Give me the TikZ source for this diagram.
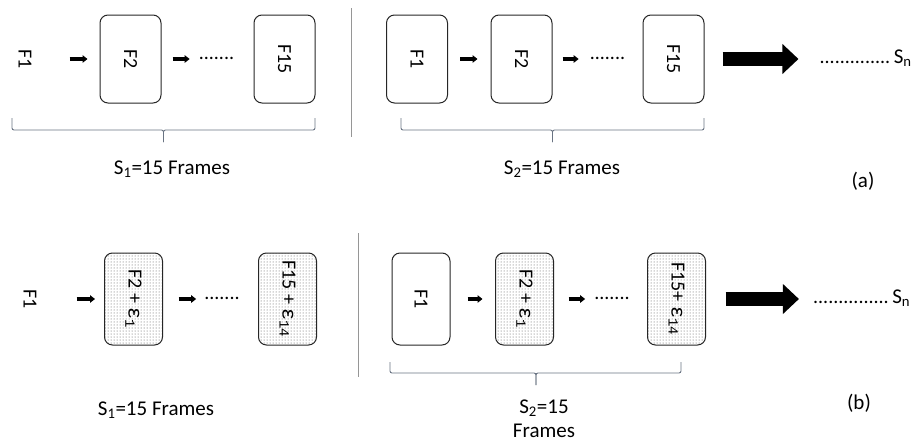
\documentclass[tikz,border=0pt]{standalone}
\usepackage{fontspec}
\setmainfont{Carlito}
\newfontfamily\epsfont{Liberation Mono}
\usetikzlibrary{arrows.meta,patterns}
\definecolor{braceGray}{RGB}{105,115,130}
\definecolor{ruleGray}{RGB}{150,150,150}
\newcommand{\noise}[1]{{\epsfont ε\textsubscript{#1}}}
\begin{document}
\begin{tikzpicture}[x=1pt,y=-1pt,
    frame/.style={draw=black!85,line width=1pt,rounded corners=8pt,
                  rotate=-90,minimum width=88pt,minimum height=61pt,
                  inner sep=0pt,font=\fontsize{20}{22}\selectfont},
    lowframe/.style={frame,minimum width=92pt,minimum height=58pt},
    noisy/.style={lowframe,pattern=dots,pattern color=black!70},
    tag/.style={rotate=-90,inner sep=0pt,font=\fontsize{20}{22}\selectfont},
    dotrow/.style={inner sep=0pt,text height=1.5pt,text depth=0pt,
                   font=\fontsize{20}{22}\selectfont},
    tailrow/.style={dotrow,text height=8pt},
    lbl/.style={inner sep=0pt,font=\fontsize{21}{24}\selectfont},
    flow/.style={-{Triangle[length=5pt,width=7.5pt]},line width=3.2pt},
    bigflow/.style={-{Triangle[length=16pt,width=29pt]},line width=14pt},
    bracket/.style={draw=braceGray,line width=0.9pt,rounded corners=2pt}
  ]
    \useasboundingbox (0,0) rectangle (918,442);

    % (a) plain frames
    \node[tag] (t1) at (25,59) {F1};
    \node[frame] (t2) at (130.5,59) {F2};
    \node[dotrow] (d1) at (216.5,59) {.......};
    \node[frame] (t15) at (284.5,59) {F15};

    \draw[flow,shorten <=38pt,shorten >=12pt] (t1) -- (t2);
    \draw[flow,shorten <=11pt,shorten >=9pt] (t2) -- (d1);

    \node[frame] (r1) at (417,59) {F1};
    \node[frame] (r2) at (521.5,59) {F2};
    \node[dotrow] (d2) at (607.5,59) {.......};
    \node[frame] (r15) at (673.5,59) {F15};
    \node[tailrow] (e1) at (855,59) {..............};
    \node[lbl,anchor=base west,inner sep=3pt] (sn1) at (e1.base east)
      {S\textsubscript{n}};

    \draw[flow,shorten <=12pt,shorten >=13pt] (r1) -- (r2);
    \draw[flow,shorten <=10pt,shorten >=11pt] (r2) -- (d2);
    \draw[bigflow,shorten <=18pt,shorten >=21pt] (r15) -- (e1);

    \draw[bracket] (12,118) |- (163.5,130) -- (163.5,142);
    \draw[bracket] (315,118) |- (163.5,130) -- (163.5,142);
    \draw[bracket] (401,118) |- (552.5,130) -- (552.5,142);
    \draw[bracket] (704,118) |- (552.5,130) -- (552.5,142);
    \draw[ruleGray,line width=0.9pt] (351,8) -- (351,137);

    \node[lbl] (s1a) at (172,169) {S\textsubscript{1}=15 Frames};
    \node[lbl] (s2a) at (562,169) {S\textsubscript{2}=15 Frames};
    \node[lbl] (capa) at (863,181) {(a)};

    % (b) frames with noise
    \node[tag] (b1) at (30,299) {F1};
    \node[noisy] (b2) at (133.5,299) {F2 + \noise{1}};
    \node[dotrow] (d3) at (222,299) {.......};
    \node[noisy] (b15) at (287.5,299) {F15 + \noise{14}};

    \draw[flow,shorten <=40pt,shorten >=9pt] (b1) -- (b2);
    \draw[flow,shorten <=15.5pt,shorten >=8pt] (b2) -- (d3);

    \node[lowframe] (c1) at (421,299) {F1};
    \node[noisy] (c2) at (524.5,299) {F2 + \noise{1}};
    \node[dotrow] (d4) at (612,299) {.......};
    \node[noisy] (c15) at (676.5,299) {F15+ \noise{14}};
    \node[tailrow] (e2) at (851,299) {...............};
    \node[lbl,anchor=base west,inner sep=3pt] (sn2) at (e2.base east)
      {S\textsubscript{n}};

    \draw[flow,shorten <=17pt,shorten >=12.5pt] (c1) -- (c2);
    \draw[flow,shorten <=14.5pt,shorten >=9pt] (c2) -- (d4);
    \draw[bigflow,shorten <=19.5pt,shorten >=14pt] (c15) -- (e2);

    \draw[bracket] (390,362) |- (536,373) -- (536,385);
    \draw[bracket] (681,362) |- (536,373) -- (536,385);
    \draw[ruleGray,line width=0.9pt] (358,233) -- (358,377);

    \node[lbl] (s1b) at (156,410) {S\textsubscript{1}=15 Frames};
    \node[lbl,align=center] (s2b) at (544,419) {S\textsubscript{2}=15\\Frames};
    \node[lbl] (capb) at (859,403) {(b)};
  \end{tikzpicture}
\end{document}
